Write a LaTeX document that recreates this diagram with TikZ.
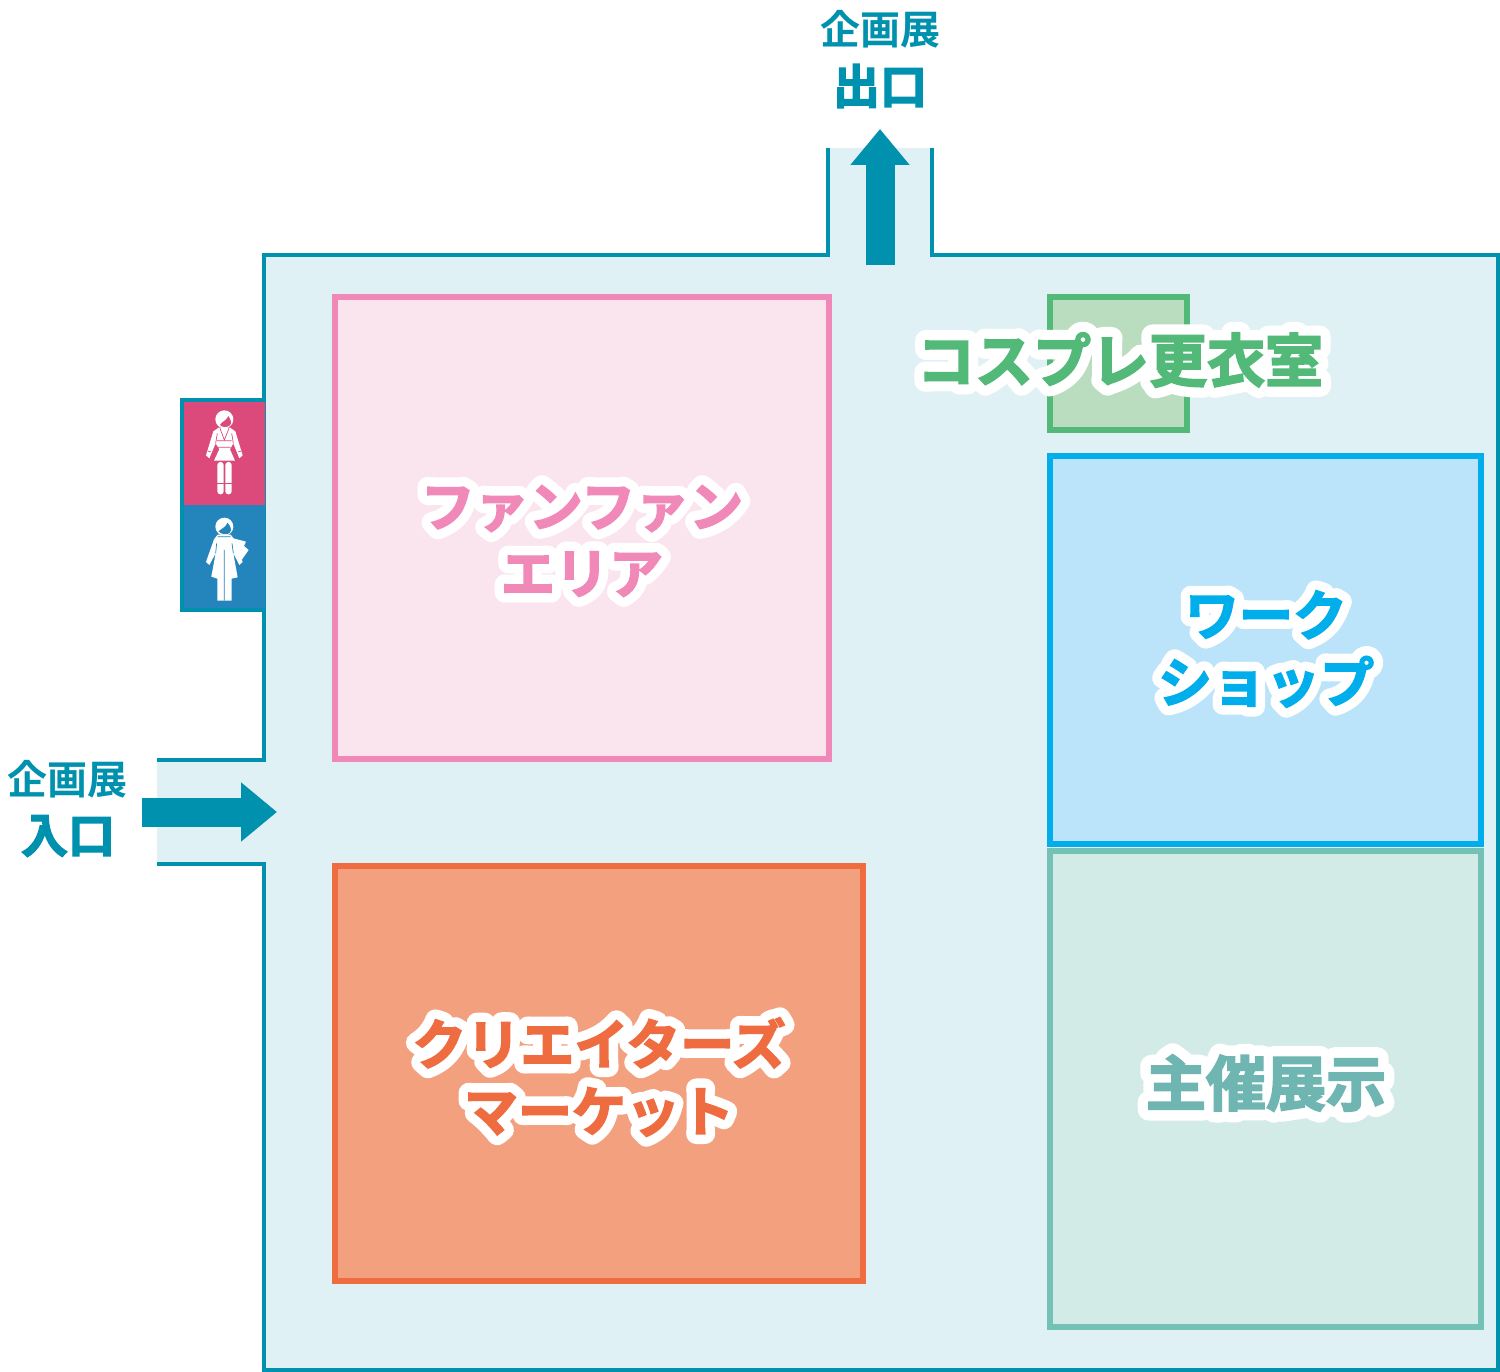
\documentclass[tikz,border=0pt]{standalone}
\usepackage{fontspec}
\usetikzlibrary{arrows.meta}
\newfontfamily\jpb{Noto Sans CJK JP Bold}
\newfontfamily\jpheavy{Noto Sans CJK JP Bold}[FakeBold=3]
\newfontfamily\jpsign{Noto Sans CJK JP Bold}[FakeBold=2]
\newfontfamily\jpring{Noto Sans CJK JP Bold}[FakeBold=38]
\definecolor{mainc}{HTML}{0091AE}
\definecolor{floorc}{HTML}{DFF1F5}
\definecolor{pinke}{HTML}{F088B8}
\definecolor{pinkf}{HTML}{FAE5EE}
\definecolor{orane}{HTML}{EE6C3F}
\definecolor{oranf}{HTML}{F3A07F}
\definecolor{bluee}{HTML}{00AEEB}
\definecolor{bluef}{HTML}{BBE3F9}
\definecolor{teale}{HTML}{74C1B5}
\definecolor{tealf}{HTML}{D3EBE6}
\definecolor{tealt}{HTML}{6FB5B2}
\definecolor{greene}{HTML}{52B979}
\definecolor{greenf}{HTML}{BADDBF}
\definecolor{wcpink}{HTML}{DB4A7B}
\definecolor{wcblue}{HTML}{2484BC}
\tikzset{
  wall/.style={draw=mainc,line width=4pt,line cap=butt,line join=miter},
  room/.style={line width=6pt},
  flow/.style={draw=mainc,line width=29pt,-{Triangle[length=36pt,width=57pt]}},
  sign/.style={text=mainc,align=center,inner sep=0pt},
  figw/.style={fill=white,draw=none},
}
% outlined room label: white halo, then coloured text
\newcommand{\roomlabel}[6]{% name, x, y, colour, size, text
  \node[text=white,align=center,inner sep=0pt,font={\special{pdf:code 1 j 1 J}\fontsize{#5}{67}\jpring}] at (#2,#3) {#6};
  \node[text=#4,align=center,inner sep=0pt,font={\fontsize{#5}{67}\jpheavy}] (#1) at (#2,#3) {#6};
}
\begin{document}
\begin{tikzpicture}[x=1pt,y=-1pt]
\useasboundingbox (0,0) rectangle (1500,1372);
% floor
\fill[floorc] (157,760) -- (264,760) -- (264,255) -- (828,255) -- (828,148) -- (931,148) -- (931,255)
  -- (1500,255) -- (1500,1372) -- (264,1372) -- (264,864) -- (157,864) -- cycle;
% walls
\draw[wall] (157,760) -- (264,760) -- (264,255) -- (828,255) -- (828,148);
\draw[wall] (932,148) -- (932,255) -- (1498,255) -- (1498,1370) -- (264,1370) -- (264,864) -- (157,864);
% toilets
\fill[wcpink] (182,400) rectangle (265,505);
\fill[wcblue] (182,505) rectangle (265,610);
\draw[wall] (265,400) -- (182,400) -- (182,610) -- (265,610);
\begin{scope}[shift={(170,390)},x=0.3333pt,y=-0.3333pt]
  % first figure
  \fill[figw] (163,88) circle (27);
  \fill[wcpink] (150,105) .. controls (156,94) and (170,92) .. (175,78) .. controls (182,88) and (186,98) .. (180,106) .. controls (170,113) and (158,113) .. (150,105) -- cycle;
  \fill[figw] (146,113) -- (180,113) -- (196,124) -- (218,196) -- (208,205) -- (190,160) -- (180,178) -- (195,212) -- (132,212) -- (148,178) -- (137,160) -- (118,205) -- (108,196) -- (130,124) -- cycle;
  \fill[figw,rounded corners=3pt] (142,216) rectangle (161,313);
  \fill[figw,rounded corners=3pt] (166,216) rectangle (185,313);
  \draw[wcpink,line width=1pt] (142,281) -- (161,281) (166,281) -- (185,281);
  \draw[wcpink,line width=0.7pt] (141,152) -- (185,152) (144,172) -- (182,172) (113,183) -- (123,186) (214,183) -- (204,186);
  \draw[wcpink,line width=0.7pt] (150,115) -- (163,150) -- (177,115);
  \draw[wcpink,line width=0.7pt] (142,130) -- (137,160) (185,130) -- (190,160);
  % second figure
  \fill[figw] (163,410) circle (27);
  \fill[wcblue] (146,424) .. controls (156,414) and (168,412) .. (172,398) .. controls (182,408) and (186,418) .. (180,428) .. controls (170,436) and (154,434) .. (146,424) -- cycle;
  \fill[figw] (143,434) -- (182,434) -- (193,448) -- (218,516) -- (208,525) -- (190,490) -- (203,562) -- (185,566) -- (185,632) -- (142,632) -- (142,566) -- (124,560) -- (137,490) -- (118,525) -- (108,516) -- (132,448) -- cycle;
  \fill[figw] (186,444) -- (228,455) -- (222,468) -- (236,480) -- (215,510) -- (200,480) -- (190,462) -- cycle;
  \draw[wcblue,line width=0.7pt] (163,480) -- (163,632) (143,440) -- (182,440) (140,460) -- (137,490) (186,460) -- (190,490);
\end{scope}
% rooms
\fill[pinkf,draw=pinke,room] (335,297) rectangle (829,759);
\fill[oranf,draw=orane,room] (335,866) rectangle (863,1281);
\fill[tealf,draw=teale,room] (1050,851) rectangle (1481,1327);
\fill[bluef,draw=bluee,room] (1050,456) rectangle (1481,844);
\fill[greenf,draw=greene,room] (1050,297) rectangle (1187,430);
% flows
\coordinate (inS) at (142,812); \coordinate (inE) at (277,812);
\coordinate (outS) at (880,265); \coordinate (outE) at (880,129);
\draw[flow] (inS) -- (inE);
\draw[flow] (outS) -- (outE);
% signs
\node[sign,font={\fontsize{40}{40}\jpb}] (ent1) at (68,779) {企画展};
\node[sign,font={\fontsize{47}{47}\jpheavy}] (ent2) at (68,836) {入口};
\node[sign,font={\fontsize{40}{40}\jpb}] (ex1) at (880,29) {企画展};
\node[sign,font={\fontsize{47}{47}\jpheavy}] (ex2) at (880,86) {出口};
% room labels
\roomlabel{lcos}{1120}{360}{greene}{58}{コスプレ更衣室}
\roomlabel{lfan}{582}{541}{pinke}{54}{ファンファン\\エリア}
\roomlabel{lwork}{1266}{649}{bluee}{54}{ワーク\\ショップ}
\roomlabel{lmark}{599}{1077}{orane}{54}{クリエイターズ\\マーケット}
\roomlabel{lshu}{1266}{1083}{tealt}{60}{主催展示}
\end{tikzpicture}
\end{document}
